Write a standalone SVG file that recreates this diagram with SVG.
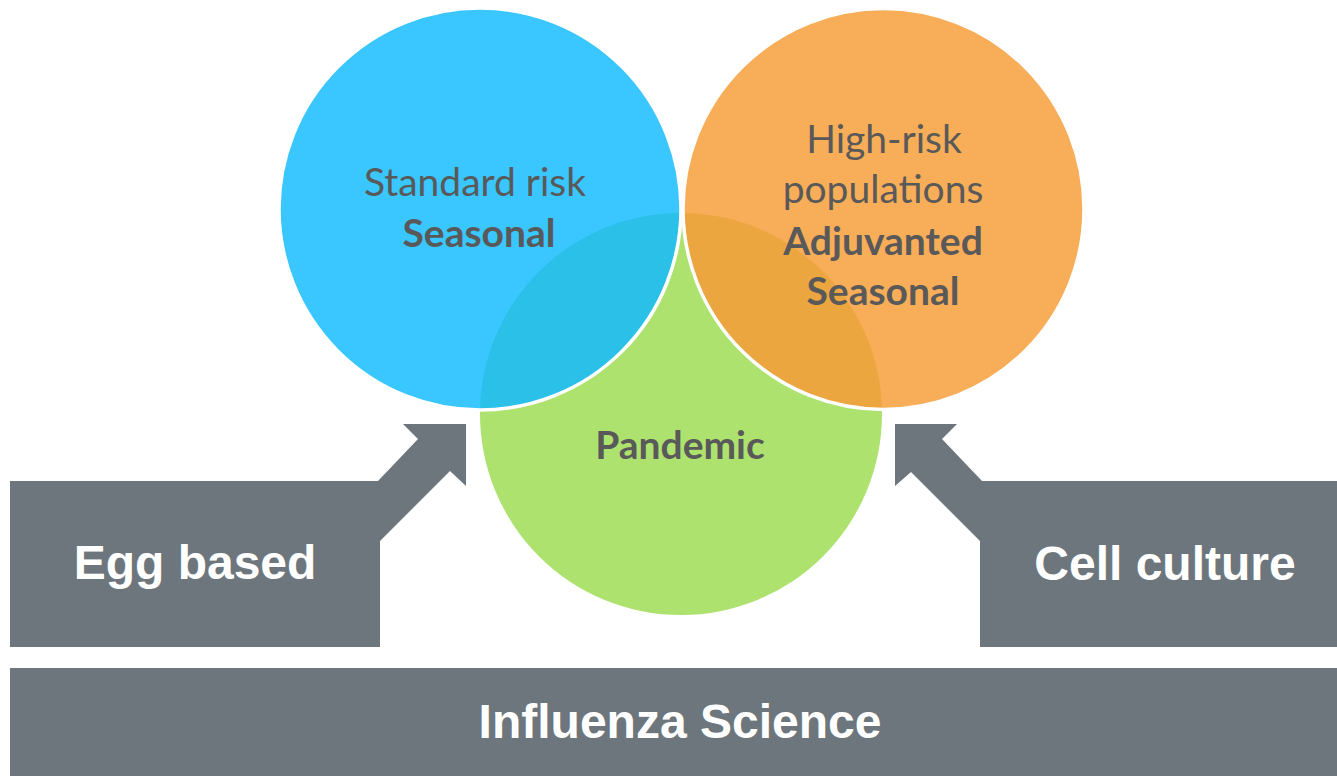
<svg xmlns="http://www.w3.org/2000/svg" width="1337" height="776" viewBox="0 0 1337 776">
<style>
.lbl{font-family:Lato,"Open Sans","Liberation Sans",sans-serif;font-size:39px;fill:#595959;text-anchor:middle}
.b{font-weight:bold}
.box{fill:#6D767C}
.wt{font-family:"Liberation Sans",Arial,sans-serif;font-weight:bold;font-size:48px;fill:#FFFFFF;text-anchor:middle}
.ring{fill:none;stroke:#FFFFFF;stroke-width:3.5}
</style>
<defs>
<clipPath id="clipGreen"><circle cx="681" cy="414" r="201"/></clipPath>
</defs>
<rect width="1337" height="776" fill="#FFFFFF"/>
<g id="venn">
<g id="pandemic">
<circle cx="681" cy="414" r="201" fill="#ADE26F"/>
</g>
<g id="seasonal">
<circle cx="480" cy="209" r="201" fill="#3AC6FE"/>
</g>
<g id="adjuvanted">
<circle cx="883.5" cy="209" r="200.5" fill="#F8AD58"/>
</g>
<g id="overlaps" clip-path="url(#clipGreen)">
<circle cx="480" cy="209" r="201" fill="#2BC0E8"/>
<circle cx="883.5" cy="209" r="200.5" fill="#ECA63F"/>
</g>
<circle class="ring" cx="480" cy="209" r="201"/>
<circle class="ring" cx="883.5" cy="209" r="200.5"/>
<text class="lbl" x="475" y="196">Standard risk</text>
<text class="lbl b" x="479" y="247">Seasonal</text>
<text class="lbl" x="884" y="153">High-risk</text>
<text class="lbl" x="883" y="203">populations</text>
<text class="lbl b" x="883" y="255">Adjuvanted</text>
<text class="lbl b" x="883" y="305">Seasonal</text>
<text class="lbl b" x="680" y="459">Pandemic</text>
</g>
<g id="egg-based">
<polygon class="box" points="10,481 378,481 418,439 403,424 466,424 466,486 450,471 380,541 380,647 10,647"/>
<text class="wt" x="195" y="579">Egg based</text>
</g>
<g id="cell-culture">
<polygon class="box" points="895,424 957,424 942,439 982,481 1337,481 1337,647 980,647 980,541 911,472 895,486"/>
<text class="wt" x="1165" y="580">Cell culture</text>
</g>
<g id="influenza-science">
<rect class="box" x="10" y="668" width="1327" height="108"/>
<text class="wt" x="680" y="738">Influenza Science</text>
</g>
</svg>
